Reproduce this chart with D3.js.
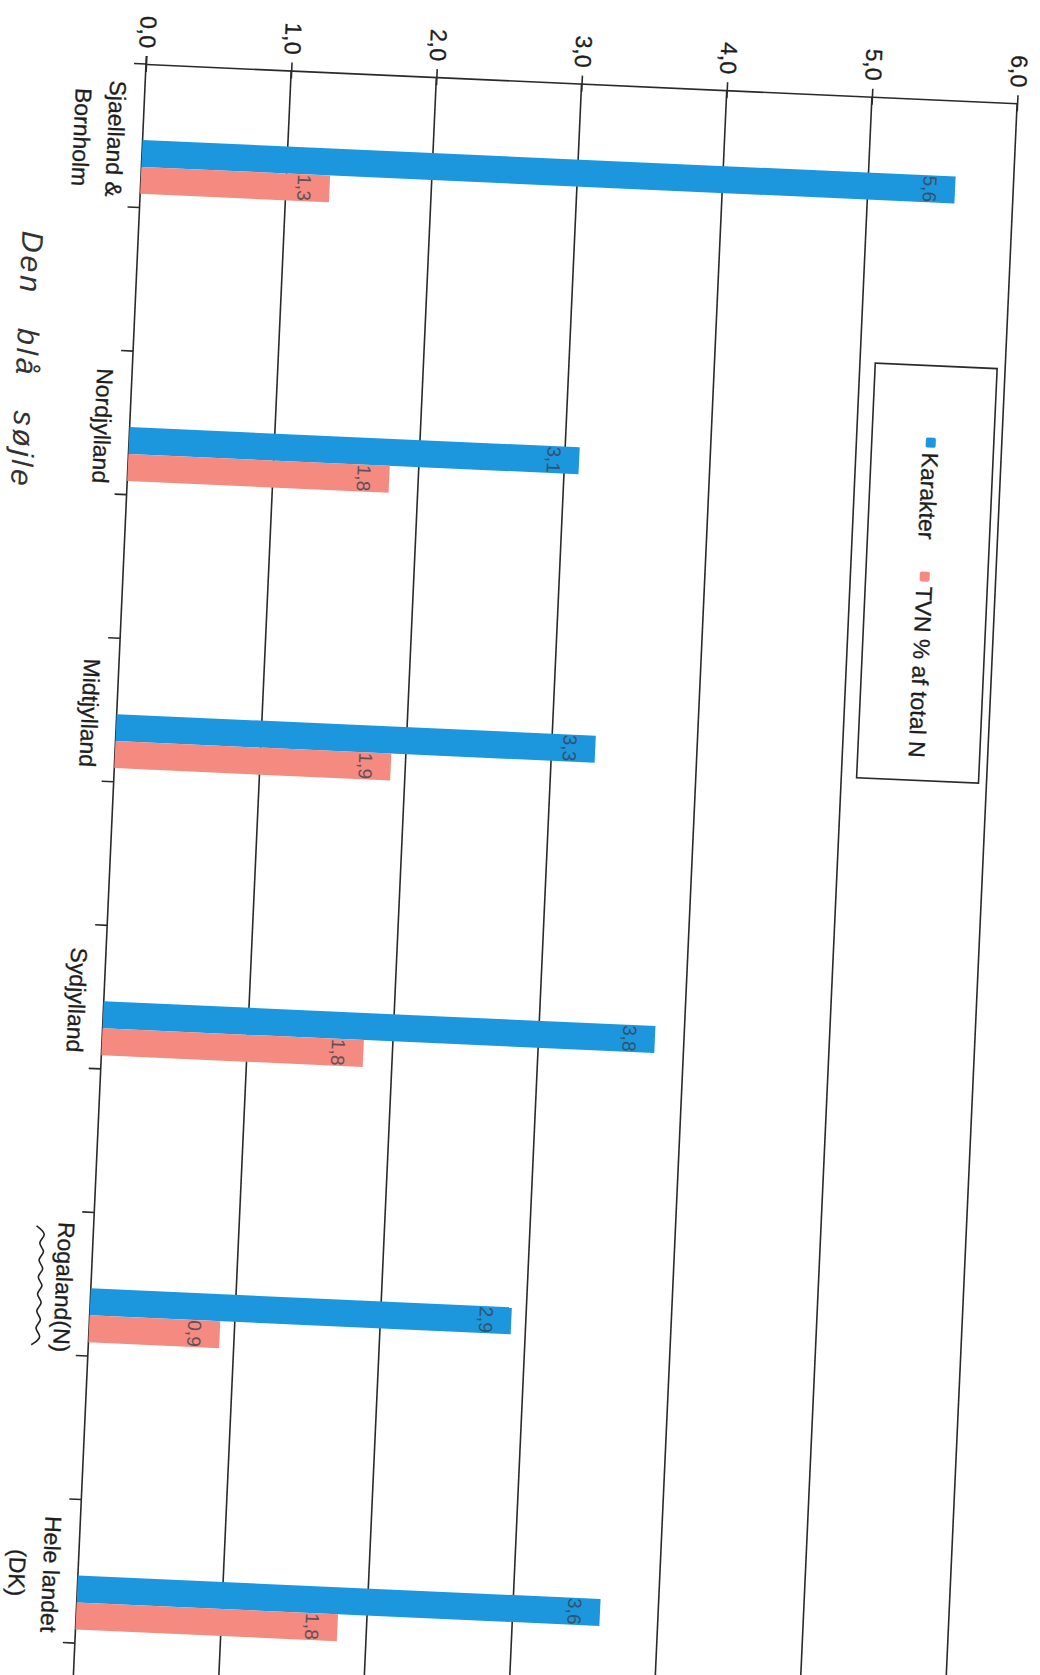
<!DOCTYPE html>
<html>
<head>
<meta charset="utf-8">
<script src="https://cdn.jsdelivr.net/npm/d3@7"></script>
<style>
  html, body { margin: 0; padding: 0; background: #fff; }
  svg { display: block; }
  text { font-family: "Liberation Sans", Arial, sans-serif; }
</style>
</head>
<body>
<svg id="chart"></svg>
<script>
const categories = [['Sjaelland &', 'Bornholm'], ['Nordjylland'], ['Midtjylland'], ['Sydjylland'], ['Rogaland(N)'], ['Hele landet', '(DK)']]
const seriesNames = ['Karakter', 'TVN % af total N']
const karakter = [5.6, 3.1, 3.3, 3.8, 2.9, 3.6]
const tvn = [1.3, 1.8, 1.9, 1.8, 0.9, 1.8]
const valueTicks = [0, 1, 2, 3, 4, 5, 6]
const seriesColors = ['#1c97dd', '#f58a80']

const width = 1040
const height = 1675

const svg = d3.select('#chart')
  .attr('width', width)
  .attr('height', height)
  .style('overflow', 'hidden')

// the whole page was scanned on its side and a little skewed
const g = svg.append('g')
  .attr('transform', 'translate(146, 64) rotate(2.58)')

const fmt = v => d3.format('.1f')(v).replace('.', ',')

const x = d3.scaleLinear().domain([0, 6]).range([0, 872])

const y = d3.scaleBand()
  .domain(d3.range(categories.length))
  .range([0, 287.4 * categories.length])
  .paddingInner(0)

// bars sit in the upper part of every band
const sub = d3.scaleBand()
  .domain(d3.range(seriesNames.length))
  .range([76, 130])

const rows = categories.map((c, i) => ({ i, label: c, values: [karakter[i], tvn[i]] }))
const axisEnd = 1800

// gridlines
g.append('g')
  .selectAll('line')
  .data(valueTicks.slice(1))
  .enter().append('line')
  .attr('x1', d => x(d)).attr('x2', d => x(d))
  .attr('y1', 0).attr('y2', axisEnd)
  .attr('stroke', '#2a2a2a')
  .attr('stroke-width', 1.6)

// value axis (top) with crossing ticks
const xAxis = g.append('g')
  .call(d3.axisTop(x).tickValues(valueTicks).tickFormat(fmt).tickSizeOuter(0))
xAxis.select('.domain').attr('stroke', '#2a2a2a').attr('stroke-width', 1.6)
xAxis.selectAll('.tick line')
  .attr('y1', 8).attr('y2', -8)
  .attr('stroke', '#2a2a2a').attr('stroke-width', 1.6)
xAxis.selectAll('.tick text')
  .attr('transform', 'translate(-8, -16) rotate(90)')
  .attr('x', 0).attr('y', 0).attr('dy', 0)
  .attr('text-anchor', 'end')
  .attr('font-size', 23)
  .attr('fill', '#1e1e1e')
  .attr('stroke', '#1e1e1e')
  .attr('stroke-width', 0.3)

// category axis (left)
g.append('line')
  .attr('x1', 0).attr('x2', 0)
  .attr('y1', -8).attr('y2', axisEnd)
  .attr('stroke', '#2a2a2a')
  .attr('stroke-width', 1.6)

const halfTicks = d3.range(categories.length * 2 + 1).map(k => k * y.bandwidth() / 2)
g.append('g')
  .selectAll('line')
  .data(halfTicks)
  .enter().append('line')
  .attr('x1', -12).attr('x2', 0)
  .attr('y1', d => d).attr('y2', d => d)
  .attr('stroke', '#2a2a2a')
  .attr('stroke-width', 1.6)

// bars
const groups = g.selectAll('.cat')
  .data(rows)
  .enter().append('g')
  .attr('class', 'cat')
  .attr('transform', d => `translate(0, ${y(d.i)})`)

groups.selectAll('rect')
  .data(d => d.values.map((v, s) => ({ v, s })))
  .enter().append('rect')
  .attr('x', 0)
  .attr('y', d => sub(d.s))
  .attr('width', d => x(d.v))
  .attr('height', sub.bandwidth())
  .attr('fill', d => seriesColors[d.s])

// value labels inside the bar ends
groups.selectAll('.val')
  .data(d => d.values.map((v, s) => ({ v, s })))
  .enter().append('text')
  .attr('class', 'val')
  .attr('transform', d => `translate(${x(d.v) - 32}, ${sub(d.s) + sub.bandwidth() / 2}) rotate(90)`)
  .attr('text-anchor', 'middle')
  .attr('font-size', 19)
  .attr('fill', '#3b4250')
  .attr('opacity', 0.8)
  .text(d => fmt(d.v))

// category labels, read top to bottom
groups.each(function (d) {
  const t = d3.select(this)
  d.label.forEach((line, li) => {
    t.append('text')
      .attr('transform', `translate(${-35 - li * 34}, ${sub(0)}) rotate(90)`)
      .attr('text-anchor', 'middle')
      .attr('font-size', 23)
      .attr('fill', '#1e1e1e')
      .attr('stroke', '#1e1e1e')
      .attr('stroke-width', 0.3)
      .text(line)
  })
})

// handwritten squiggle under Rogaland(N)
const rog = rows[4]
const squiggle = d3.line().curve(d3.curveBasis)
const wave = d3.range(0, 15).map(k => [-51 + (k % 2 ? 6 : -6), y(rog.i) + sub(0) - 60 + k * 8.5])
g.append('path')
  .attr('d', squiggle(wave))
  .attr('fill', 'none')
  .attr('stroke', '#222')
  .attr('stroke-width', 1.6)

// handwritten note along the left edge
g.append('text')
  .attr('transform', 'translate(-116, 172) rotate(90)')
  .attr('font-family', 'DejaVu Sans')
  .attr('font-weight', 200)
  .attr('font-style', 'italic')
  .attr('font-size', 30)
  .attr('letter-spacing', 3)
  .attr('word-spacing', 22)
  .attr('fill', '#333')
  .text('Den blå søjle')

// legend box
const legend = g.append('g').attr('transform', 'translate(742, 266)')
legend.append('rect')
  .attr('width', 122).attr('height', 415)
  .attr('fill', '#fff')
  .attr('stroke', '#2a2a2a')
  .attr('stroke-width', 1.6)

const legendY = [77, 211]
seriesNames.forEach((name, s) => {
  legend.append('rect')
    .attr('x', 54).attr('y', legendY[s] - 5)
    .attr('width', 10).attr('height', 10)
    .attr('rx', 2)
    .attr('fill', seriesColors[s])
  legend.append('text')
    .attr('transform', `translate(51, ${legendY[s] + 10}) rotate(90)`)
    .attr('font-size', 23)
    .attr('fill', '#1e1e1e')
    .attr('stroke', '#1e1e1e')
    .attr('stroke-width', 0.3)
    .text(name)
})
</script>
</body>
</html>
